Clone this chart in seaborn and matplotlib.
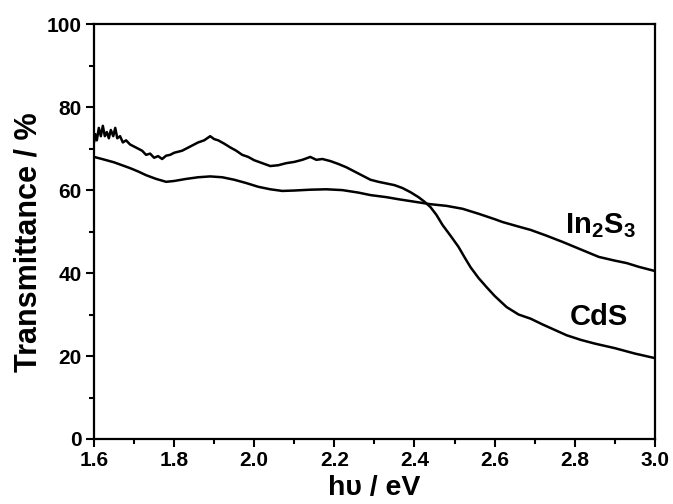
import numpy as np
import pandas as pd
import seaborn as sns
import matplotlib.pyplot as plt
from matplotlib.ticker import MultipleLocator

# CdS transmittance
cds_ev = [1.600, 1.603, 1.607, 1.612, 1.617, 1.622, 1.627, 1.632, 1.637, 1.642,
          1.648, 1.653, 1.658, 1.665, 1.672, 1.680, 1.690, 1.700, 1.710, 1.720,
          1.730, 1.740, 1.750, 1.760, 1.770, 1.780, 1.790, 1.800, 1.820, 1.840,
          1.860, 1.875, 1.890, 1.900, 1.910, 1.925, 1.940, 1.955, 1.970, 1.985,
          2.000, 2.020, 2.040, 2.060, 2.080, 2.100, 2.120, 2.140, 2.155, 2.170,
          2.190, 2.210, 2.230, 2.250, 2.270, 2.290, 2.310, 2.330, 2.350, 2.370,
          2.390, 2.410, 2.425, 2.440, 2.455, 2.470, 2.490, 2.510, 2.525, 2.540,
          2.560, 2.580, 2.600, 2.630, 2.660, 2.690, 2.720, 2.750, 2.780, 2.815,
          2.850, 2.900, 2.950, 3.000]
cds_t = [71.5, 73.5, 72.0, 75.0, 73.0, 75.5, 73.0, 74.0, 72.5, 74.5,
         73.0, 75.0, 72.5, 73.0, 71.5, 72.0, 71.0, 70.5, 70.0, 69.5,
         68.5, 68.8, 67.8, 68.2, 67.5, 68.3, 68.5, 69.0, 69.5, 70.5,
         71.5, 72.0, 73.0, 72.3, 72.0, 71.2, 70.3, 69.5, 68.5, 68.0,
         67.2, 66.5, 65.8, 66.0, 66.5, 66.8, 67.3, 68.0, 67.3, 67.5,
         67.0, 66.3, 65.5, 64.5, 63.5, 62.5, 62.0, 61.6, 61.2, 60.5,
         59.5, 58.3, 57.2, 55.9, 54.0, 51.6, 49.0, 46.3, 43.8, 41.4,
         38.8, 36.6, 34.5, 31.8, 30.0, 29.0, 27.6, 26.3, 25.0, 23.9,
         23.0, 21.9, 20.6, 19.5]

# In2S3 transmittance
ins_ev = [1.600, 1.620, 1.650, 1.670, 1.690, 1.710, 1.730, 1.755, 1.780, 1.800,
          1.830, 1.860, 1.890, 1.920, 1.950, 1.980, 2.010, 2.040, 2.070, 2.100,
          2.140, 2.180, 2.220, 2.260, 2.290, 2.330, 2.360, 2.400, 2.440, 2.480,
          2.520, 2.560, 2.600, 2.620, 2.660, 2.690, 2.730, 2.770, 2.820, 2.860,
          2.900, 2.930, 2.960, 3.000]
ins_t = [68.0, 67.5, 66.7, 66.0, 65.3, 64.5, 63.6, 62.7, 62.0, 62.2,
         62.7, 63.1, 63.3, 63.1, 62.5, 61.7, 60.8, 60.2, 59.8, 59.9,
         60.1, 60.2, 60.0, 59.4, 58.8, 58.3, 57.8, 57.2, 56.6, 56.2,
         55.5, 54.3, 53.0, 52.3, 51.2, 50.4, 49.0, 47.5, 45.5, 43.9,
         43.0, 42.4, 41.5, 40.5]

df = pd.concat([
    pd.DataFrame({'ev': cds_ev, 't': cds_t, 'sample': 'CdS'}),
    pd.DataFrame({'ev': ins_ev, 't': ins_t, 'sample': 'In2S3'}),
])

sns.set_style('ticks', {'axes.edgecolor': 'black', 'xtick.color': 'black',
                        'ytick.color': 'black', 'text.color': 'black',
                        'axes.labelcolor': 'black'})
plt.rcParams['font.family'] = ['Liberation Sans', 'DejaVu Sans']
plt.rcParams['font.weight'] = 'bold'
plt.rcParams['mathtext.fontset'] = 'custom'
plt.rcParams['mathtext.rm'] = 'Liberation Sans:bold'
plt.rcParams['mathtext.bf'] = 'Liberation Sans:bold'
plt.rcParams['mathtext.it'] = 'Liberation Sans:bold'

fig = plt.figure(figsize=(6.73, 5.04), dpi=100)
ax = fig.add_axes([0.1397, 0.129, 0.8333, 0.823])

sns.lineplot(data=df, x='ev', y='t', hue='sample', palette={'CdS': 'black', 'In2S3': 'black'},
             linewidth=1.8, legend=False, ax=ax, sort=True)

ax.set_xlim(1.6, 3.0)
ax.set_ylim(0, 100)
ax.xaxis.set_major_locator(MultipleLocator(0.2))
ax.xaxis.set_minor_locator(MultipleLocator(0.1))
ax.yaxis.set_major_locator(MultipleLocator(20))
ax.yaxis.set_minor_locator(MultipleLocator(10))
ax.tick_params(which='major', direction='out', length=6, width=1.5, labelsize=15, pad=3,
               colors='black')
ax.tick_params(which='minor', direction='out', length=3.5, width=1.5, colors='black')
ax.xaxis.set_major_formatter(plt.FuncFormatter(lambda v, p: f'{v:.1f}'))
for s in ax.spines.values():
    s.set_linewidth(1.6)
    s.set_color('black')
for lab in ax.get_xticklabels() + ax.get_yticklabels():
    lab.set_fontweight('bold')

ax.set_xlabel('h\u03c5 / eV', fontsize=20.5, fontweight='bold', color='black', labelpad=3)
ax.set_ylabel('Transmittance / %', fontsize=22, fontweight='bold', color='black')
ax.yaxis.set_label_coords(-0.09, 0.475)

ax.text(2.865, 51.5, r'In$_{2}$S$_{3}$', fontsize=21, fontweight='bold', color='black',
        ha='center', va='center')
ax.text(2.86, 29.4, 'CdS', fontsize=21, fontweight='bold', color='black',
        ha='center', va='center')

fig.savefig('out.png', dpi=100)
